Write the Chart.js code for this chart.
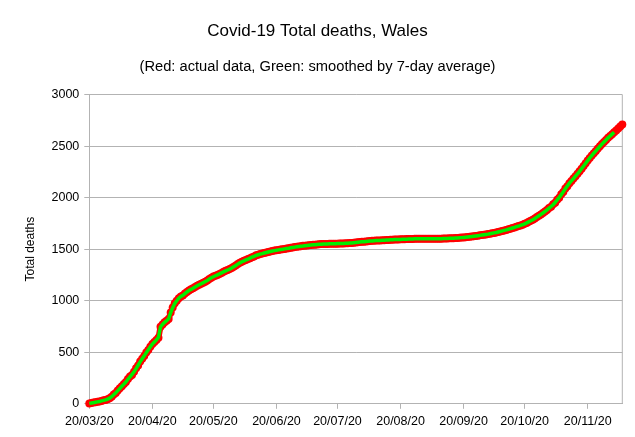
<!DOCTYPE html>
<html>
<head>
<meta charset="utf-8">
<script src="https://cdn.jsdelivr.net/npm/chart.js@4.4.1/dist/chart.umd.min.js"></script>
<style>
  html, body { margin: 0; padding: 0; background: #fff; }
  #wrap { width: 635px; height: 437px; }
</style>
</head>
<body>
<div id="wrap"><canvas id="myChart"></canvas></div>
<script>
const FONT = "'Liberation Sans', Arial, sans-serif";

// x axis: day 0 is the first date
const startDate = "20/03/20";
const tickLabels = [
  "20/03/20", "20/04/20", "20/05/20", "20/06/20", "20/07/20",
  "20/08/20", "20/09/20", "20/10/20", "20/11/20"
];
const yTicks = [0, 500, 1000, 1500, 2000, 2500, 3000];

// Total deaths per day (red)
const actualDeaths = [
  3, 7, 12, 16, 19, 22, 28, 34, 38, 45,
  55, 69, 90, 105, 130, 150, 170, 192, 212, 240,
  265, 280, 312, 345, 372, 410, 438, 463, 498, 523,
  553, 580, 600, 620, 640, 748, 770, 790, 805, 823,
  886, 935, 975, 1000, 1025, 1040, 1050, 1070, 1085, 1100,
  1110, 1122, 1134, 1145, 1155, 1165, 1175, 1185, 1197, 1210,
  1222, 1234, 1242, 1250, 1260, 1270, 1280, 1290, 1297, 1307,
  1318, 1330, 1342, 1355, 1368, 1378, 1388, 1396, 1404, 1412,
  1422, 1430, 1440, 1446, 1452, 1458, 1462, 1468, 1473, 1478,
  1482, 1486, 1490, 1492, 1496, 1499, 1502, 1506, 1510, 1513,
  1517, 1520, 1523, 1526, 1529, 1532, 1534, 1536, 1538, 1540,
  1542, 1544, 1545, 1547, 1549, 1550, 1551, 1551, 1552, 1552,
  1553, 1553, 1553, 1554, 1555, 1556, 1557, 1558, 1560, 1561,
  1563, 1565, 1567, 1569, 1571, 1573, 1575, 1577, 1579, 1581,
  1582, 1583, 1584, 1585, 1586, 1587, 1588, 1590, 1591, 1592,
  1593, 1594, 1595, 1596, 1596, 1597, 1598, 1598, 1599, 1599,
  1600, 1600, 1600, 1601, 1601, 1601, 1601, 1601, 1601, 1601,
  1601, 1601, 1602, 1602, 1603, 1603, 1604, 1605, 1606, 1607,
  1608, 1609, 1610, 1612, 1614, 1616, 1618, 1620, 1622, 1625,
  1628, 1631, 1634, 1637, 1640, 1643, 1646, 1650, 1654, 1658,
  1662, 1667, 1672, 1677, 1682, 1687, 1693, 1699, 1705, 1711,
  1718, 1724, 1730, 1737, 1746, 1755, 1765, 1775, 1786, 1798,
  1811, 1824, 1837, 1851, 1866, 1880, 1900, 1912, 1935, 1950,
  1980, 2000, 2032, 2055, 2088, 2110, 2140, 2162, 2185, 2208,
  2231, 2255, 2281, 2307, 2333, 2359, 2385, 2408, 2431, 2453,
  2476, 2498, 2519, 2540, 2560, 2580, 2598, 2616, 2634, 2652,
  2670, 2690, 2709
];

// 7-day average (green), stops a few days before the end
const smoothedDeaths = [
  4, 7, 11, 15, 19, 23, 28, 33, 38, 45,
  55, 69, 88, 106, 128, 149, 170, 191, 213, 238,
  262, 285, 311, 341, 374, 407, 437, 465, 496, 524,
  553, 579, 600, 620, 645, 745, 770, 790, 806, 824,
  884, 933, 974, 1000, 1024, 1041, 1052, 1069, 1085, 1099,
  1110, 1122, 1134, 1145, 1155, 1165, 1175, 1186, 1197, 1210,
  1222, 1233, 1242, 1251, 1260, 1270, 1280, 1289, 1298, 1307,
  1318, 1330, 1342, 1355, 1367, 1378, 1387, 1396, 1404, 1413,
  1422, 1431, 1439, 1446, 1452, 1457, 1463, 1468, 1473, 1478,
  1482, 1486, 1489, 1493, 1496, 1499, 1503, 1506, 1509, 1513,
  1517, 1520, 1523, 1526, 1529, 1531, 1534, 1536, 1538, 1540,
  1542, 1543, 1545, 1547, 1548, 1550, 1551, 1551, 1552, 1552,
  1553, 1553, 1554, 1554, 1555, 1556, 1557, 1558, 1560, 1561,
  1563, 1565, 1567, 1569, 1571, 1573, 1575, 1577, 1579, 1580,
  1582, 1583, 1584, 1585, 1586, 1587, 1588, 1589, 1591, 1592,
  1593, 1594, 1595, 1595, 1596, 1597, 1597, 1598, 1599, 1599,
  1600, 1600, 1600, 1601, 1601, 1601, 1601, 1601, 1601, 1601,
  1601, 1601, 1602, 1602, 1603, 1603, 1604, 1605, 1606, 1607,
  1608, 1609, 1611, 1612, 1614, 1616, 1618, 1620, 1622, 1625,
  1628, 1631, 1634, 1637, 1640, 1643, 1646, 1650, 1654, 1658,
  1662, 1667, 1672, 1677, 1682, 1687, 1693, 1699, 1705, 1711,
  1718, 1724, 1730, 1737, 1746, 1755, 1765, 1775, 1786, 1798,
  1811, 1824, 1837, 1851, 1866, 1882, 1898, 1914, 1931, 1954,
  1978, 2003, 2029, 2057, 2085, 2113, 2140, 2162, 2185, 2208,
  2231, 2255, 2281, 2307, 2333, 2359, 2385, 2408, 2431, 2453,
  2476, 2498, 2519, 2540, 2560, 2580, 2598, 2616, 2634
];

function parseDate(label) {
  const [d, m, y] = label.split("/").map(Number);
  return Date.UTC(2000 + y, m - 1, d);
}

function dayOffset(label) {
  return Math.round((parseDate(label) - parseDate(startDate)) / 86400000);
}

const tickDays = tickLabels.map(dayOffset);

function toPoints(values) {
  return values.map((v, i) => ({ x: i, y: v }));
}

// the plot frame has a grey right edge too
const plotFrame = {
  id: "plotFrame",
  beforeDatasetsDraw(chart) {
    const { ctx, chartArea } = chart;
    ctx.save();
    ctx.strokeStyle = "#b3b3b3";
    ctx.lineWidth = 1;
    ctx.beginPath();
    ctx.moveTo(chartArea.right, chartArea.top);
    ctx.lineTo(chartArea.right, chartArea.bottom);
    ctx.stroke();
    ctx.restore();
  }
};

new Chart("myChart", {
  type: "line",
  data: {
    datasets: [
      {
        // green on top
        data: toPoints(smoothedDeaths),
        borderColor: "#00ee00",
        borderWidth: 3.5,
        pointRadius: 0,
        tension: 0,
        clip: 8
      },
      {
        data: toPoints(actualDeaths),
        borderColor: "#ff0000",
        backgroundColor: "#ff0000",
        borderWidth: 6,
        pointRadius: 4,
        pointBorderWidth: 0,
        pointBackgroundColor: "#ff0000",
        tension: 0,
        clip: 8
      }
    ]
  },
  options: {
    responsive: true,
    maintainAspectRatio: false,
    animation: false,
    events: [],
    layout: { padding: 0 },
    plugins: {
      legend: { display: false },
      tooltip: { enabled: false },
      title: {
        display: true,
        text: "Covid-19 Total deaths, Wales",
        color: "#000",
        font: { family: FONT, size: 17, weight: "normal" },
        padding: { top: 21, bottom: 15 }
      },
      subtitle: {
        display: true,
        text: "(Red: actual data, Green: smoothed by 7-day average)",
        color: "#000",
        font: { family: FONT, size: 14.7, weight: "normal" },
        padding: { top: 1.5, bottom: 19 }
      }
    },
    scales: {
      x: {
        type: "linear",
        min: 0,
        max: actualDeaths.length - 1,
        afterBuildTicks: (scale) => {
          scale.ticks = tickDays.map((d) => ({ value: d }));
        },
        afterFit: (scale) => {
          scale.height = 33.2;
        },
        ticks: {
          callback: (value, index) => tickLabels[index],
          color: "#000",
          font: { family: FONT, size: 12.5 },
          maxRotation: 0,
          autoSkip: false,
          padding: 5
        },
        grid: { drawOnChartArea: false, color: "#b3b3b3", tickLength: 5 },
        border: { color: "#b3b3b3" }
      },
      y: {
        min: yTicks[0],
        max: yTicks[yTicks.length - 1],
        afterBuildTicks: (scale) => {
          scale.ticks = yTicks.map((v) => ({ value: v }));
        },
        afterFit: (scale) => {
          scale.width = 89.3;
        },
        ticks: {
          callback: (value) => String(value),
          color: "#000",
          font: { family: FONT, size: 12.5 },
          padding: 5
        },
        grid: { color: "#b3b3b3", tickLength: 5 },
        border: { color: "#b3b3b3" },
        title: {
          display: true,
          text: "Total deaths",
          color: "#000",
          font: { family: FONT, size: 12 },
          padding: { top: 23, bottom: 0 }
        }
      },
      // empty strip on the right so the titles stay centred on the page
      yRight: {
        position: "right",
        display: true,
        ticks: { display: false },
        grid: { display: false, drawTicks: false },
        border: { display: false },
        afterFit: (scale) => {
          scale.width = 12.7;
        }
      }
    }
  },
  plugins: [plotFrame]
});
</script>
</body>
</html>
